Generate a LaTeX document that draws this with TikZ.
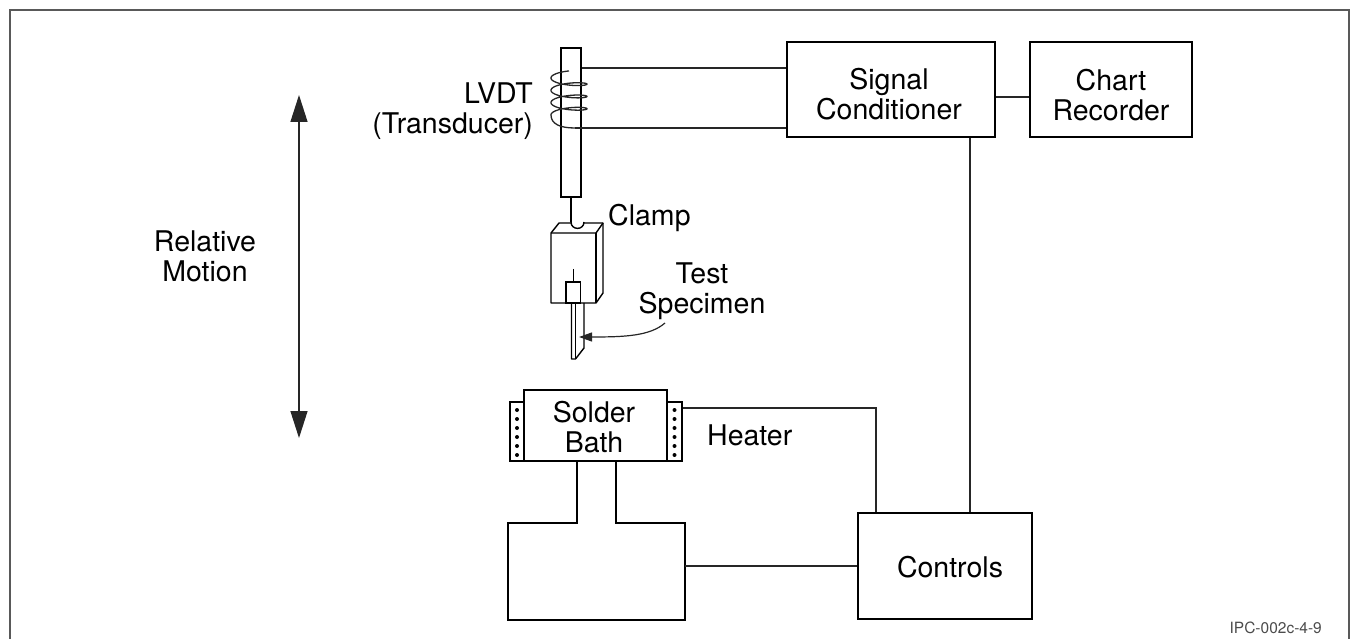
\documentclass[tikz,border=0pt]{standalone}
\usepackage{fontspec}
\setmainfont{TeX Gyre Heros}
\usetikzlibrary{arrows.meta}
\begin{document}
\begin{tikzpicture}[x=1pt,y=-1pt,
  box/.style={draw=black, line width=2pt, fill=white, inner sep=0pt},
  thick2/.style={draw=black, line width=2pt, line join=miter},
  thin1/.style={draw=black, line width=1.4pt},
  wire/.style={draw=black!85, line width=1.2pt},
  lab/.style={font=\fontsize{28.5}{30}\selectfont, inner sep=0pt, align=center},
  small/.style={font=\fontsize{15.5}{17}\selectfont, inner sep=0pt, text=black!70},
  frame/.style={draw=black!65, line width=2pt}]
\useasboundingbox (0,0) rectangle (1353,639);
\draw[frame] (10,660) -- (10,10) -- (1349,10) -- (1349,660);

% ---------- boxes ----------
\node[box, minimum width=208, minimum height=95] (sc) at (891,89.5) {};
\node[box, minimum width=162, minimum height=95] (cr) at (1111,89.5) {};
\node[box, minimum width=174, minimum height=106] (ctl) at (945,566) {};
\node[box, minimum width=143, minimum height=71] (bath) at (595.5,425.5) {};
\node[box, minimum width=14, minimum height=59] (hl) at (517,431.5) {};
\node[box, minimum width=15, minimum height=59] (hr) at (674.5,431.5) {};
\node[box, minimum width=20, minimum height=149] (rod) at (571,122.5) {};

% heater dots
\foreach \i in {0,...,5} {
  \fill (517,410+9*\i) circle (2pt);
  \fill (674.5,410+9*\i) circle (2pt);
}

% ---------- texts ----------
\node[lab] (sct) at (889,94.6) {Signal\\Conditioner};
\node[lab] (crt) at (1111,94.6) {Chart\\Recorder};
\node[lab, anchor=base] (ctlt) at (950,577) {Controls};
\node[lab] (batht) at (594,426.6) {Solder\\Bath};
\node[lab] (rmt) at (205,256.6) {Relative\\Motion};
\node[lab, align=right, anchor=east] (lvdt) at (533,110.75) {LVDT\\(Transducer)};
\node[lab] (tst) at (702,290.75) {Test\\Specimen};
\node[lab, anchor=base west] (clampt) at (608,226) {Clamp};
\node[lab, anchor=base west] (heatert) at (707,445) {Heater};
\node[small, anchor=base east] (ipc) at (1322,633) {IPC-002c-4-9};

% ---------- coil on the LVDT ----------
\draw[wire, line width=1.3pt] plot[domain=-90:1080, samples=300, smooth]
  ({569-18*cos(\x)}, {78+12.3*\x/360+4*sin(\x)});
\coordinate (l1) at (581,68);
\coordinate (l2) at (575,128);
\draw[wire] (rod.east |- l1) -- (sc.west |- l1);
\draw[wire, line width=1.3pt] (551,114.9) .. controls (551,124) and (560,128) .. (l2);
\draw[wire] (l2) -- (sc.west |- l2);

% ---------- clamp ----------
\coordinate (hk) at (571,222);
\draw[thin1] (rod.south -| hk) -- (hk);
\filldraw[thin1, fill=white, line join=round] (551,233) -- (559,223) -- (603,223) -- (603,293) -- (596,303) -- (551,303) -- cycle;
\draw[thin1] (551,233) -- (596,233) -- (603,223);
\draw[thin1] (596,233) -- (596,303);
\draw[thin1, fill=white] (hk) .. controls (571,230.5) and (584,230.5) .. (584,222);
\draw[thin1] (573.3,269) -- (573.3,282);
\draw[thin1] (566,282) rectangle (580.7,303);
% specimen
\draw[thin1, line join=round] (571.5,303) -- (571.5,359) -- (575.5,359) -- (584,348) -- (584,303);
\draw[thin1] (575.5,303) -- (575.5,359);
\coordinate (tsa) at (665,323);
\coordinate (tsb) at (579,337);
\draw[wire, -{Triangle[length=13pt,width=9pt]}] (tsa) .. controls (650,336) and (625,337) .. (tsb);

% ---------- relative motion ----------
\coordinate (rmT) at (299,95);
\coordinate (rmB) at (299,438);
\draw[wire, line width=1.4pt, {Triangle[length=27pt,width=17pt]}-{Triangle[length=27pt,width=17pt]}] (rmT) -- (rmB);

% ---------- tank ----------
\draw[thick2] (577,461) -- (577,523) -- (508,523) -- (508,620) -- (685,620) -- (685,523) -- (616,523) -- (616,461);

% ---------- connections ----------
\draw[wire] ([yshift=-7.5pt]sc.east) -- ([yshift=-7.5pt]cr.west);
\coordinate (v1) at (970,300);
\draw[wire] (sc.south -| v1) -- (ctl.north -| v1);
\coordinate (hx) at (876,408);
\draw[wire] (hr.east |- hx) -- (hx) -- (ctl.north -| hx);
\coordinate (tr) at (685,566);
\draw[wire] (tr) -- (ctl.west |- tr);
\end{tikzpicture}
\end{document}
